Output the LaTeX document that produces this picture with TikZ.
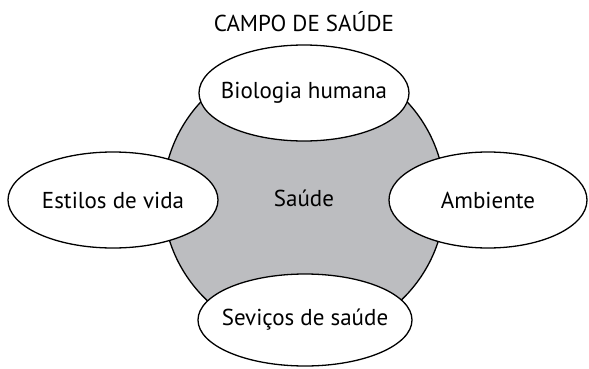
\documentclass[tikz,border=0pt]{standalone}
\usepackage{fontspec}
\setmainfont{PT Sans}
\usepackage{tikz}
\usetikzlibrary{shapes.geometric}
\definecolor{campogray}{RGB}{188,189,192}
\tikzset{factor/.style={draw, ellipse, line width=1.3pt, fill=white, inner xsep=-30pt, inner ysep=-4pt, font=\fontsize{23}{26}\selectfont}}

\begin{document}
\begin{tikzpicture}[x=1pt, y=1pt]
  \useasboundingbox (0, 0) rectangle (589, 368);

  \node (title) [font=\fontsize{23}{26}\selectfont] at (304, 346) {CAMPO DE SAÚDE};

  \node (saude) [draw, circle, line width=1.3pt, fill=campogray, minimum size=282pt, inner sep=0mm, font=\fontsize{23}{26}\selectfont] at (304, 170) {Saúde};

  \node (bio) [factor, minimum width=210pt, minimum height=96pt] at (304, 275) {Biologia humana};
  \node (estilos) [factor, minimum width=210pt, minimum height=96pt] at (113, 168) {Estilos de vida};
  \node (amb) [factor, minimum width=198pt, minimum height=96pt] at (488, 168) {Ambiente};
  \node (serv) [factor, minimum width=214pt, minimum height=92pt] at (305, 48) {Seviços de saúde};
\end{tikzpicture}
\end{document}
